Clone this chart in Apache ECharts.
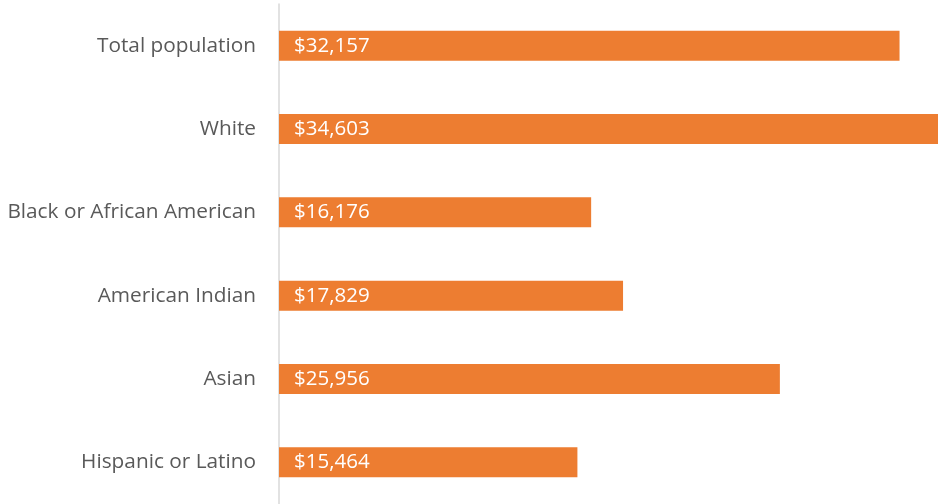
<!DOCTYPE html>
<html>
<head>
<meta charset="utf-8">
<script src="https://cdn.jsdelivr.net/npm/echarts@6/dist/echarts.min.js"></script>
<style>
  html, body { margin: 0; padding: 0; background: #ffffff; overflow: hidden; }
  #chart { width: 938px; height: 504px; }
</style>
</head>
<body>
<div id="chart"></div>
<script>
// Per capita income by race / ethnicity
const categories = [
  'Total population',
  'White',
  'Black or African American',
  'American Indian',
  'Asian',
  'Hispanic or Latino'
];
const incomeValues = [32157, 34603, 16176, 17829, 25956, 15464];

const chart = echarts.init(document.getElementById('chart'));

const fmt = v => '$' + v.toLocaleString('en-US');

chart.setOption({
  animation: false,
  // the value axis ends at the right edge; the largest bar runs past it
  grid: { left: 279, top: 4, bottom: 0, right: 0, containLabel: false },
  xAxis: {
    type: 'value',
    min: 0,
    max: 34150,
    show: false
  },
  yAxis: {
    type: 'category',
    data: categories,
    inverse: true,
    axisLine: { show: true, lineStyle: { color: '#d9d9d9', width: 1.5 } },
    axisTick: { show: false },
    axisLabel: {
      color: '#595959',
      fontFamily: 'Open Sans',
      fontSize: 20.8,
      margin: 23
    }
  },
  series: [{
    type: 'bar',
    data: incomeValues,
    barWidth: 30,
    clip: false,
    itemStyle: { color: '#ed7d31' },
    label: {
      show: true,
      position: 'insideLeft',
      distance: 15,
      color: '#ffffff',
      fontFamily: 'Open Sans',
      fontSize: 20.5,
      formatter: p => fmt(p.value)
    }
  }]
});
</script>
</body>
</html>
